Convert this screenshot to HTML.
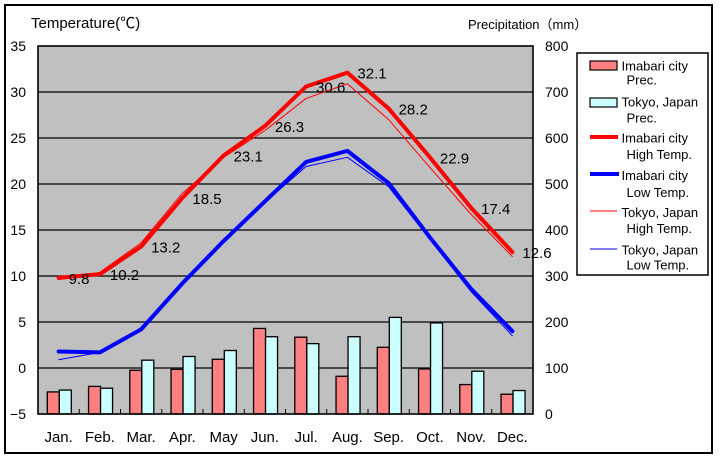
<!DOCTYPE html>
<html><head><meta charset="utf-8">
<style>
html,body{margin:0;padding:0;background:#fff;}
svg{display:block;}
text{font-family:"Liberation Sans","Noto Sans CJK JP",sans-serif;fill:#000;}
</style></head>
<body>
<svg width="720" height="460" viewBox="0 0 720 460" xmlns="http://www.w3.org/2000/svg">
<rect x="0" y="0" width="720" height="460" fill="#fff"/>
<rect x="5" y="5" width="707" height="448" fill="none" stroke="#000" stroke-width="2"/>

<text x="31" y="28" font-size="15">Temperature(℃)</text>
<text x="468" y="29" font-size="13">Precipitation（mm）</text>

<!-- plot area -->
<rect x="38" y="46" width="495" height="368" fill="#c0c0c0"/>
<g stroke="#000" stroke-width="1.2">
<line x1="38" y1="92" x2="533" y2="92"/>
<line x1="38" y1="138" x2="533" y2="138"/>
<line x1="38" y1="184" x2="533" y2="184"/>
<line x1="38" y1="230" x2="533" y2="230"/>
<line x1="38" y1="276" x2="533" y2="276"/>
<line x1="38" y1="322" x2="533" y2="322"/>
<line x1="38" y1="368" x2="533" y2="368"/>
</g>

<!-- bars -->
<g stroke="#000" stroke-width="1.3">
<g fill="#ff8080">
<rect x="47.3" y="391.92" width="12" height="22.08"/>
<rect x="88.55" y="386.4" width="12" height="27.6"/>
<rect x="129.8" y="370.3" width="12" height="43.7"/>
<rect x="171.05" y="369.38" width="12" height="44.62"/>
<rect x="212.3" y="359.26" width="12" height="54.74"/>
<rect x="253.55" y="328.44" width="12" height="85.56"/>
<rect x="294.8" y="337.18" width="12" height="76.82"/>
<rect x="336.05" y="376.28" width="12" height="37.72"/>
<rect x="377.3" y="347.3" width="12" height="66.7"/>
<rect x="418.55" y="368.92" width="12" height="45.08"/>
<rect x="459.8" y="384.56" width="12" height="29.44"/>
<rect x="501.05" y="394.22" width="12" height="19.78"/>
</g>
<g fill="#ccffff">
<rect x="59.3" y="390.08" width="12" height="23.92"/>
<rect x="100.55" y="388.24" width="12" height="25.76"/>
<rect x="141.8" y="360.18" width="12" height="53.82"/>
<rect x="183.05" y="356.5" width="12" height="57.5"/>
<rect x="224.3" y="350.52" width="12" height="63.48"/>
<rect x="265.55" y="336.72" width="12" height="77.28"/>
<rect x="306.8" y="343.62" width="12" height="70.38"/>
<rect x="348.05" y="336.72" width="12" height="77.28"/>
<rect x="389.3" y="317.4" width="12" height="96.6"/>
<rect x="430.55" y="322.92" width="12" height="91.08"/>
<rect x="471.8" y="371.22" width="12" height="42.78"/>
<rect x="513.05" y="390.54" width="12" height="23.46"/>
</g>
</g>

<!-- plot border -->
<rect x="38" y="46" width="495" height="368" fill="none" stroke="#000" stroke-width="1.6"/>
<!-- month ticks -->
<g stroke="#000" stroke-width="1">
<line x1="79.25" y1="409" x2="79.25" y2="414"/>
<line x1="120.5" y1="409" x2="120.5" y2="414"/>
<line x1="161.75" y1="409" x2="161.75" y2="414"/>
<line x1="203" y1="409" x2="203" y2="414"/>
<line x1="244.25" y1="409" x2="244.25" y2="414"/>
<line x1="285.5" y1="409" x2="285.5" y2="414"/>
<line x1="326.75" y1="409" x2="326.75" y2="414"/>
<line x1="368" y1="409" x2="368" y2="414"/>
<line x1="409.25" y1="409" x2="409.25" y2="414"/>
<line x1="450.5" y1="409" x2="450.5" y2="414"/>
<line x1="491.75" y1="409" x2="491.75" y2="414"/>
</g>

<!-- lines -->
<g fill="none" stroke-linejoin="round" stroke-linecap="round">
<polyline stroke="#ff0000" stroke-width="4" points="58.63,277.84 99.88,274.16 141.13,246.56 182.38,197.8 223.63,155.48 264.88,126.04 306.13,86.48 347.38,72.68 388.63,108.56 429.88,157.32 471.13,207.92 512.38,252.08"/>
<polyline stroke="#0000ff" stroke-width="4" points="58.63,351.44 99.88,352.36 141.13,329.36 182.38,283.36 223.63,241.04 264.88,201.48 306.13,161.92 347.38,150.88 388.63,183.08 429.88,237.36 471.13,288.88 512.38,331.2"/>
<polyline stroke="#ff0000" stroke-width="1" points="58.63,279.68 99.88,272.32 141.13,242.88 182.38,193.2 223.63,157.32 264.88,130.64 306.13,98.44 347.38,83.72 388.63,119.6 429.88,167.44 471.13,214.36 512.38,256.68"/>
<polyline stroke="#0000ff" stroke-width="1" points="58.63,359.72 99.88,352.36 141.13,327.52 182.38,281.52 223.63,239.2 264.88,202.4 306.13,166.52 347.38,157.32 388.63,186.76 429.88,239.2 471.13,291.64 512.38,335.8"/>
</g>

<!-- data labels -->
<g font-size="15">
<text x="68.6" y="283.8">9.8</text>
<text x="109.9" y="280.2">10.2</text>
<text x="151.1" y="252.6">13.2</text>
<text x="192.4" y="203.8">18.5</text>
<text x="233.6" y="161.5">23.1</text>
<text x="274.9" y="132">26.3</text>
<text x="316.1" y="92.5">30.6</text>
<text x="357.4" y="78.7">32.1</text>
<text x="398.6" y="114.6">28.2</text>
<text x="439.9" y="163.3">22.9</text>
<text x="481.1" y="213.9">17.4</text>
<text x="522.4" y="258.1">12.6</text>
</g>

<!-- left axis labels -->
<g font-size="14" text-anchor="end">
<text x="26" y="51">35</text>
<text x="26" y="97">30</text>
<text x="26" y="143">25</text>
<text x="26" y="189">20</text>
<text x="26" y="235">15</text>
<text x="26" y="281">10</text>
<text x="26" y="327">5</text>
<text x="26" y="373">0</text>
<text x="26" y="419">−5</text>
</g>
<!-- right axis labels -->
<g font-size="14">
<text x="545" y="51">800</text>
<text x="545" y="97">700</text>
<text x="545" y="143">600</text>
<text x="545" y="189">500</text>
<text x="545" y="235">400</text>
<text x="545" y="281">300</text>
<text x="545" y="327">200</text>
<text x="545" y="373">100</text>
<text x="545" y="419">0</text>
</g>
<!-- month labels -->
<g font-size="15" text-anchor="middle">
<text x="58.63" y="442">Jan.</text>
<text x="99.88" y="442">Feb.</text>
<text x="141.13" y="442">Mar.</text>
<text x="182.38" y="442">Apr.</text>
<text x="223.63" y="442">May</text>
<text x="264.88" y="442">Jun.</text>
<text x="306.13" y="442">Jul.</text>
<text x="347.38" y="442">Aug.</text>
<text x="388.63" y="442">Sep.</text>
<text x="429.88" y="442">Oct.</text>
<text x="471.13" y="442">Nov.</text>
<text x="512.38" y="442">Dec.</text>
</g>

<!-- legend -->
<rect x="577" y="53" width="131" height="222" fill="#fff" stroke="#000" stroke-width="1.5"/>
<rect x="590" y="61" width="27" height="9" fill="#ff8080" stroke="#000" stroke-width="1.2"/>
<rect x="590" y="98" width="27" height="9" fill="#ccffff" stroke="#000" stroke-width="1.2"/>
<line x1="590" y1="137" x2="618" y2="137" stroke="#ff0000" stroke-width="4"/>
<line x1="590" y1="174" x2="619" y2="174" stroke="#0000ff" stroke-width="4"/>
<line x1="590" y1="211" x2="617" y2="211" stroke="#ff0000" stroke-width="1"/>
<line x1="590" y1="249" x2="617" y2="249" stroke="#0000ff" stroke-width="1"/>
<g font-size="13">
<text x="621.5" y="70.5">Imabari city</text>
<text x="626.5" y="84.5">Prec.</text>
<text x="621.5" y="106.5">Tokyo, Japan</text>
<text x="626.5" y="122.5">Prec.</text>
<text x="621.5" y="142.5">Imabari city</text>
<text x="626.5" y="159">High Temp.</text>
<text x="621.5" y="180">Imabari city</text>
<text x="626.5" y="197">Low Temp.</text>
<text x="621.5" y="217">Tokyo, Japan</text>
<text x="626.5" y="233">High Temp.</text>
<text x="621.5" y="254.5">Tokyo, Japan</text>
<text x="626.5" y="269.5">Low Temp.</text>
</g>
</svg>
</body></html>
